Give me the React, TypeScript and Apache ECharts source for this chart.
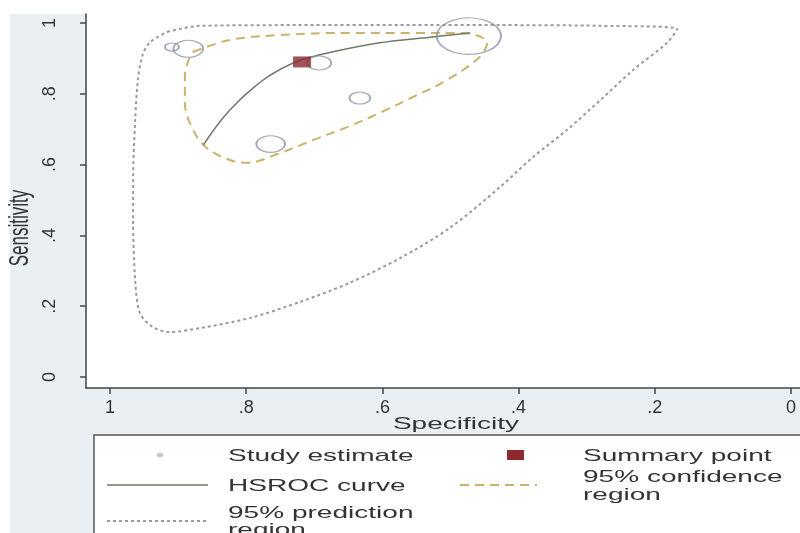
import React, { useEffect, useRef } from "react";
import * as echarts from "echarts";

// Study estimates (specificity, sensitivity) and relative weight
const studySpec = [0.909, 0.885, 0.693, 0.633, 0.764, 0.473];
const studySens = [0.932, 0.927, 0.887, 0.788, 0.658, 0.963];
const studyWeight = [1, 4.5, 3, 2.2, 4.2, 21];

// Summary point
const summarySpec = [0.718];
const summarySens = [0.89];

// HSROC curve
const hsrocSpec = [0.863, 0.824, 0.775, 0.731, 0.692, 0.604, 0.53, 0.471];
const hsrocSens = [0.655, 0.754, 0.839, 0.887, 0.91, 0.944, 0.96, 0.972];

// 95% confidence region
const confSpec = [0.878, 0.824, 0.75, 0.652, 0.555, 0.482, 0.446, 0.457, 0.505, 0.555, 0.604, 0.652, 0.702, 0.75, 0.799, 0.824, 0.858, 0.878, 0.89, 0.89, 0.883, 0.878];
const confSens = [0.918, 0.952, 0.966, 0.972, 0.972, 0.972, 0.944, 0.904, 0.839, 0.791, 0.746, 0.706, 0.669, 0.633, 0.605, 0.613, 0.647, 0.698, 0.774, 0.847, 0.904, 0.918];

// 95% prediction region
const predSpec = [0.916, 0.868, 0.721, 0.574, 0.427, 0.28, 0.167, 0.182, 0.232, 0.28, 0.329, 0.379, 0.427, 0.501, 0.574, 0.648, 0.721, 0.794, 0.868, 0.912, 0.937, 0.956, 0.963, 0.966, 0.966, 0.963, 0.959, 0.952, 0.941, 0.916];
const predSens = [0.975, 0.992, 0.994, 0.994, 0.994, 0.992, 0.983, 0.944, 0.867, 0.782, 0.698, 0.621, 0.537, 0.421, 0.336, 0.266, 0.212, 0.167, 0.138, 0.127, 0.141, 0.181, 0.274, 0.444, 0.556, 0.726, 0.839, 0.91, 0.946, 0.975];

// Tick labels
const specTicks = [0, 0.2, 0.4, 0.6, 0.8, 1];
const sensTicks = [0, 0.2, 0.4, 0.6, 0.8, 1];

const FONT = "Liberation Sans";
const TEXT = "#333333";
const STRETCH = 1.65;

const fmt = (v: number) => {
  if (v === 0) return "0";
  if (v === 1) return "1";
  return String(+v.toFixed(1)).replace(/^0\./, ".");
};

const pairs = (xs: number[], ys: number[]) => xs.map((x, i) => [x, ys[i]]);

export default function App() {
  const ref = useRef<HTMLDivElement>(null);
  useEffect(() => {
    if (!ref.current) return;
    const chart = echarts.init(ref.current, null, { renderer: "svg" });

    const legendText = (text: string, x: number, y: number) => ({
      type: "text",
      x,
      y,
      scaleX: STRETCH,
      style: { text, fill: TEXT, font: `17px "${FONT}"`, textVerticalAlign: "middle", textAlign: "left" },
      z: 5,
    });

    const option: any = {
      animation: false,
      grid: { left: 86, top: 14, width: 714, height: 374, show: false },
      xAxis: {
        type: "value",
        inverse: true,
        min: -0.0132,
        max: 1.0352,
        splitLine: { show: false },
        axisLine: { show: true, onZero: false, lineStyle: { color: "#444", width: 1.5 } },
        axisTick: { show: true, customValues: specTicks, length: 6, lineStyle: { color: "#444", width: 1.5 } },
        axisLabel: { customValues: specTicks, formatter: fmt, margin: 10, fontSize: 18, fontFamily: FONT, color: TEXT },
      },
      yAxis: {
        type: "value",
        min: -0.0311,
        max: 1.0254,
        splitLine: { show: false },
        axisLine: { show: true, onZero: false, lineStyle: { color: "#444", width: 1.5 } },
        axisTick: { show: true, customValues: sensTicks, length: 6, lineStyle: { color: "#444", width: 1.5 } },
        axisLabel: { customValues: sensTicks, formatter: fmt, rotate: 90, margin: 28, fontSize: 18, fontFamily: FONT, color: TEXT },
      },
      graphic: [
        { type: "rect", z: -20, silent: true, shape: { x: 10, y: 14, width: 790, height: 519 }, style: { fill: "#eaeff3" } },
        { type: "rect", z: -19, silent: true, shape: { x: 86, y: 14, width: 714, height: 374 }, style: { fill: "#ffffff" } },
        {
          type: "text",
          x: 456,
          y: 423,
          scaleX: STRETCH,
          style: { text: "Specificity", fill: TEXT, font: `17px "${FONT}"`, textAlign: "center", textVerticalAlign: "middle" },
        },
        {
          type: "text",
          x: 18,
          y: 228,
          rotation: Math.PI / 2,
          scaleY: STRETCH,
          style: { text: "Sensitivity", fill: TEXT, font: `17px "${FONT}"`, textAlign: "center", textVerticalAlign: "middle" },
        },
        { type: "rect", z: 1, shape: { x: 94, y: 435, width: 720, height: 110 }, style: { fill: "#ffffff", stroke: "#555", lineWidth: 1.5 } },
        { type: "ellipse", z: 5, shape: { cx: 160, cy: 455, rx: 3.5, ry: 2.5 }, style: { fill: "#c4c6d0" } },
        legendText("Study estimate", 228, 455),
        { type: "rect", z: 5, shape: { x: 507, y: 450, width: 17, height: 10 }, style: { fill: "#8b2b2f" } },
        legendText("Summary point", 583, 455),
        { type: "line", z: 5, shape: { x1: 107, y1: 485, x2: 208, y2: 485 }, style: { stroke: "#6e7866", lineWidth: 1.5 } },
        legendText("HSROC curve", 228, 485),
        { type: "line", z: 5, shape: { x1: 460, y1: 485, x2: 537, y2: 485 }, style: { stroke: "#c8b46a", lineWidth: 2, lineDash: [9, 6] } },
        legendText("95% confidence", 583, 476),
        legendText("region", 583, 494),
        { type: "line", z: 5, shape: { x1: 107, y1: 521, x2: 208, y2: 521 }, style: { stroke: "#9a9a9a", lineWidth: 2, lineDash: [3, 3] } },
        legendText("95% prediction", 228, 512),
        legendText("region", 228, 529),
      ],
      series: [
        {
          name: "95% prediction region",
          type: "line",
          data: pairs(predSpec, predSens),
          smooth: 0.3,
          showSymbol: false,
          lineStyle: { color: "#9a9a9a", width: 2, type: [3, 3] },
          z: 2,
        },
        {
          name: "95% confidence region",
          type: "line",
          data: pairs(confSpec, confSens),
          smooth: 0.35,
          showSymbol: false,
          lineStyle: { color: "#c8b46a", width: 2, type: [9, 6] },
          z: 3,
        },
        {
          name: "HSROC curve",
          type: "line",
          data: pairs(hsrocSpec, hsrocSens),
          smooth: 0.4,
          showSymbol: false,
          lineStyle: { color: "#6e7866", width: 1.5 },
          z: 4,
        },
        {
          name: "Study estimate",
          type: "scatter",
          data: studySpec.map((s, i) => {
            const h = 8 * Math.sqrt(studyWeight[i]);
            return { value: [s, studySens[i]], symbolSize: [h * 1.75, h] };
          }),
          itemStyle: { color: "rgba(255,255,255,0)", borderColor: "#8d91a6", borderWidth: 1.5 },
          z: 5,
        },
        {
          name: "Summary point",
          type: "scatter",
          symbol: "rect",
          symbolSize: [18, 11],
          data: pairs(summarySpec, summarySens),
          itemStyle: { color: "#8b2b2f" },
          z: 6,
        },
      ],
    };
    chart.setOption(option);
    return () => chart.dispose();
  }, []);
  return <div ref={ref} style={{ position: "fixed", left: 0, top: 0, width: 800, height: 533 }} />;
}
